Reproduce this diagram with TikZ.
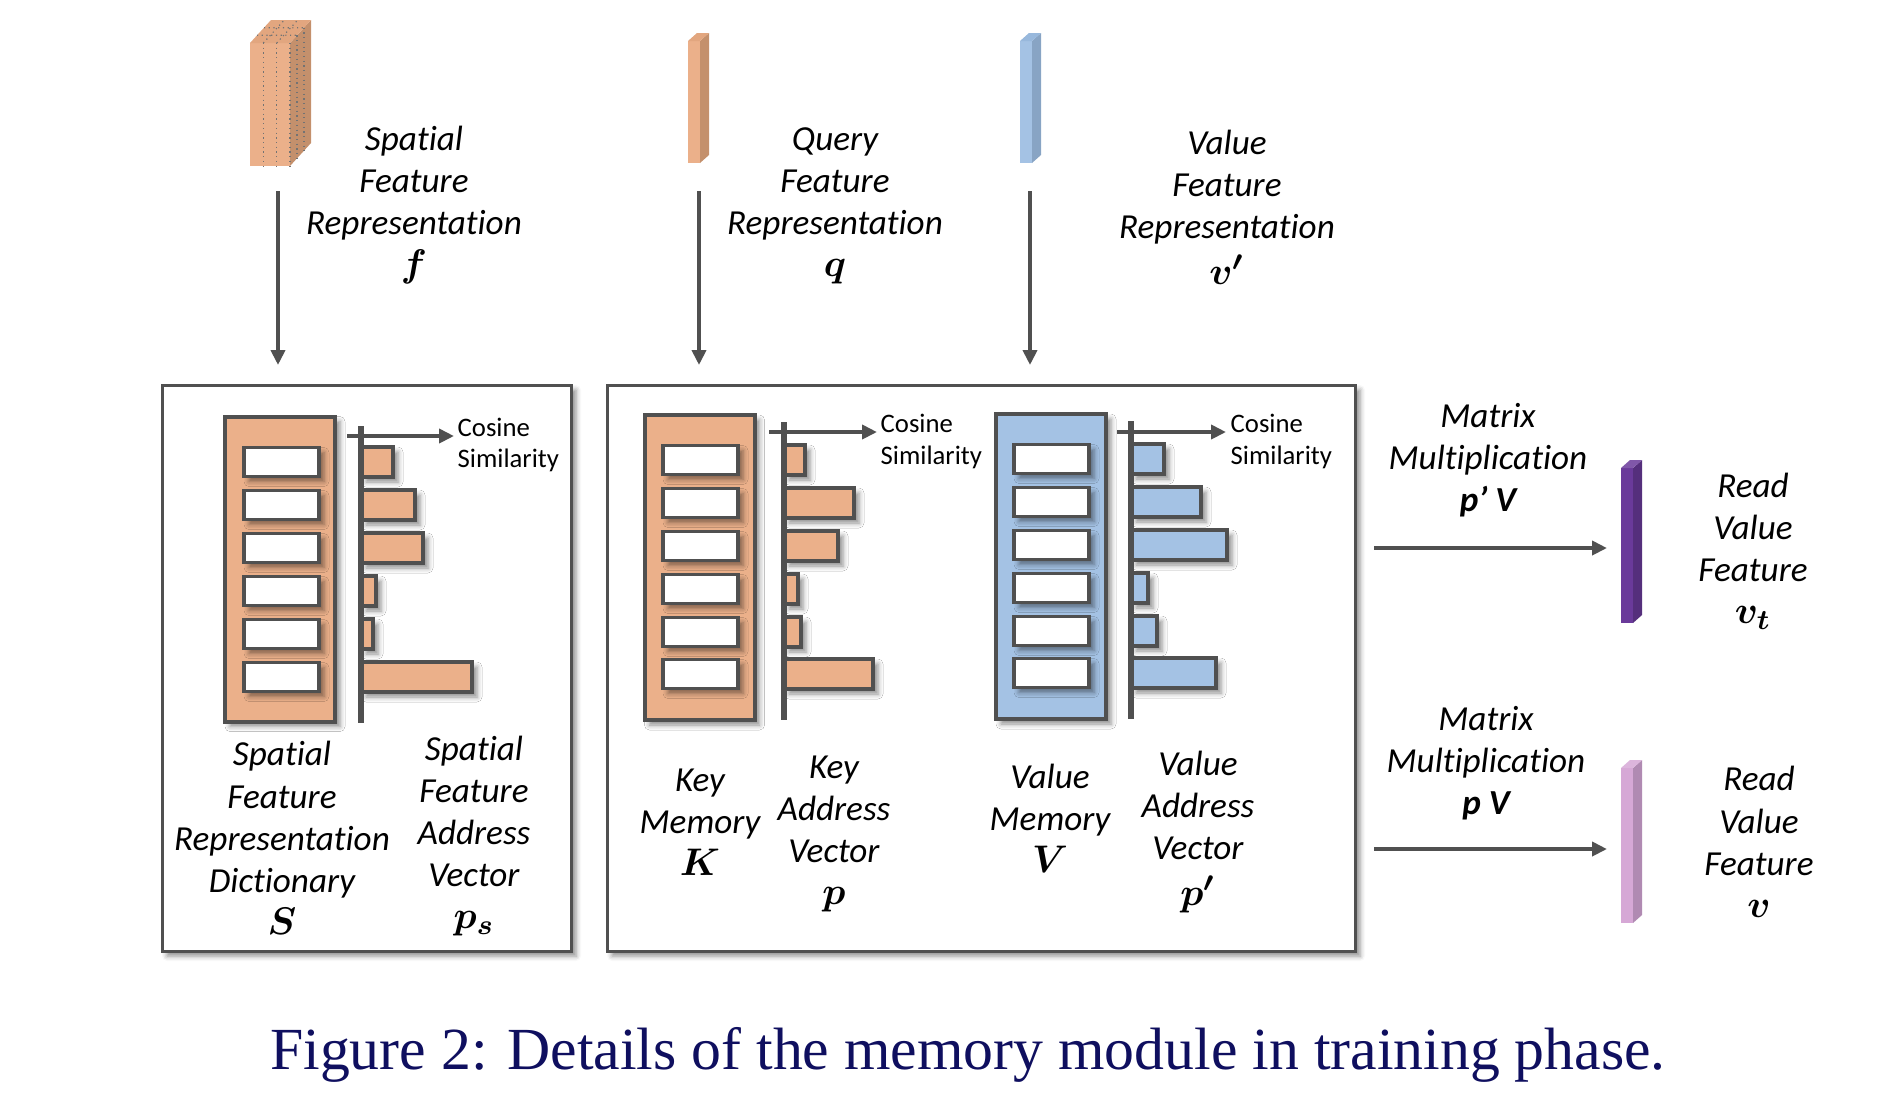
\documentclass[tikz,border=0pt]{standalone}
\usepackage{fontspec}
\setmainfont{Carlito}[Ligatures=NoCommon]
\newfontfamily\capfont{Liberation Serif}
\usepackage{bm}
\usetikzlibrary{arrows.meta,shadows.blur}
\newcommand{\symb}[1]{{\fontsize{11}{12}\selectfont$\bm{#1}$}}
\definecolor{peach}{HTML}{EBB08A}
\definecolor{peachside}{HTML}{C4906C}
\definecolor{peachtop}{HTML}{E2A67F}
\definecolor{skyblue}{HTML}{A4C2E4}
\definecolor{skyside}{HTML}{88A4C4}
\definecolor{skytop}{HTML}{98B8DC}
\definecolor{grape}{HTML}{6A3A9A}
\definecolor{grapeside}{HTML}{552F7C}
\definecolor{lilac}{HTML}{D6A8D6}
\definecolor{lilacside}{HTML}{B08AB2}
\definecolor{linegray}{HTML}{505050}
\definecolor{capblue}{RGB}{15,15,95}
\begin{document}
\begin{tikzpicture}[x=0.1mm,y=-0.1mm,
    lab/.style={font=\fontsize{10}{12}\selectfont\itshape,align=center,inner sep=0pt},
    cos/.style={font=\fontsize{7.6}{9}\selectfont,align=left,anchor=west,inner sep=0pt},
    soft/.style={blur shadow={shadow xshift=0.5mm,shadow yshift=-0.5mm,shadow blur radius=0.5mm,shadow opacity=45}},
    frame/.style={draw=linegray,line width=0.3mm,fill=white,soft},
    mem/.style={draw=linegray,line width=0.4mm,minimum width=11mm,minimum height=30.5mm,inner sep=0pt,soft},
    cell/.style={draw=linegray,line width=0.38mm,fill=white,minimum width=7.5mm,minimum height=2.9mm,inner sep=0pt,soft},
    bar/.style={draw=linegray,line width=0.4mm,soft},
    axis/.style={draw=linegray,line width=0.6mm},
    arr/.style={draw=linegray,line width=0.38mm,-{Triangle[length=1.5mm,width=1.4mm]}},
    dots/.style={draw=black!55,line width=0.12mm,densely dotted}]
  \useasboundingbox (0,0) rectangle (1897,1112);
  \fill[peach] (250,43) rectangle (290,166);
  \fill[peachside] (290,43) -- (311,20) -- (311,143) -- (290,166) -- cycle;
  \fill[peachtop] (250,43) -- (271,20) -- (311,20) -- (290,43) -- cycle;
  \draw[dots] (263.3,43) -- (263.3,166) (276.7,43) -- (276.7,166) (290,43) -- (290,166);
  \draw[dots] (297,35.3) -- (297,158.3) (304,27.7) -- (304,150.7);
  \draw[dots] (263.3,43) -- (284.3,20) (276.7,43) -- (297.7,20)
    (257,35.3) -- (297,35.3) (264,27.7) -- (304,27.7);
  \fill[peach] (688,41) rectangle (700,163);
  \fill[peachside] (700,41) -- (709,33) -- (709,155) -- (700,163) -- cycle;
  \fill[peachtop] (688,41) -- (697,33) -- (709,33) -- (700,41) -- cycle;
  \fill[skyblue] (1020,41) rectangle (1032,163);
  \fill[skyside] (1032,41) -- (1041,33) -- (1041,155) -- (1032,163) -- cycle;
  \fill[skytop] (1020,41) -- (1029,33) -- (1041,33) -- (1032,41) -- cycle;
  \fill[grape] (1621,468) rectangle (1633,623);
  \fill[grapeside] (1633,468) -- (1642,460) -- (1642,615) -- (1633,623) -- cycle;
  \fill[grape!85!white] (1621,468) -- (1630,460) -- (1642,460) -- (1633,468) -- cycle;
  \fill[lilac] (1621,768) rectangle (1633,923);
  \fill[lilacside] (1633,768) -- (1642,760) -- (1642,915) -- (1633,923) -- cycle;
  \fill[lilac!85!white] (1621,768) -- (1630,760) -- (1642,760) -- (1633,768) -- cycle;
  \node[lab] (fLab) at (414,205) {Spatial\\Feature\\Representation\\\symb{f}};
  \node[lab] (qLab) at (835,206) {Query\\Feature\\Representation\\\symb{q}};
  \node[lab] (vLab) at (1227,207) {Value\\Feature\\Representation\\[1pt]\symb{v'}};
  \draw[frame] (162,385) rectangle (571,951);
  \draw[frame] (607,385) rectangle (1355,951);
  \node[mem,fill=peach] (memS) at (280,569) {};
  \node[cell] (s1) at (281.5,462) {};
  \node[cell] (s2) at (281.5,505) {};
  \node[cell] (s3) at (281.5,548) {};
  \node[cell] (s4) at (281.5,591) {};
  \node[cell] (s5) at (281.5,634) {};
  \node[cell] (s6) at (281.5,677) {};
  \draw[bar,fill=peach] (361,447) rectangle (393,477);
  \draw[bar,fill=peach] (361,490) rectangle (415,520);
  \draw[bar,fill=peach] (361,533) rectangle (423,563);
  \draw[bar,fill=peach] (361,576) rectangle (376,606);
  \draw[bar,fill=peach] (361,619) rectangle (373,649);
  \draw[bar,fill=peach] (361,662) rectangle (472,692);
  \draw[axis] (361,426) -- (361,723);
  \node[mem,fill=peach] (memK) at (699.5,567.5) {};
  \node[cell] (k1) at (700.5,460) {};
  \node[cell] (k2) at (700.5,503) {};
  \node[cell] (k3) at (700.5,546) {};
  \node[cell] (k4) at (700.5,589) {};
  \node[cell] (k5) at (700.5,632) {};
  \node[cell] (k6) at (700.5,674) {};
  \draw[bar,fill=peach] (784,445) rectangle (805,475);
  \draw[bar,fill=peach] (784,488) rectangle (854,518);
  \draw[bar,fill=peach] (784,531) rectangle (838,561);
  \draw[bar,fill=peach] (784,574) rectangle (798,604);
  \draw[bar,fill=peach] (784,617) rectangle (801,647);
  \draw[bar,fill=peach] (784,659) rectangle (873,689);
  \draw[axis] (784,422) -- (784,720);
  \node[mem,fill=skyblue] (memV) at (1051,566.5) {};
  \node[cell] (v1) at (1051.5,459) {};
  \node[cell] (v2) at (1051.5,502) {};
  \node[cell] (v3) at (1051.5,545) {};
  \node[cell] (v4) at (1051.5,588) {};
  \node[cell] (v5) at (1051.5,631) {};
  \node[cell] (v6) at (1051.5,673) {};
  \draw[bar,fill=skyblue] (1131,444) rectangle (1164,474);
  \draw[bar,fill=skyblue] (1131,487) rectangle (1201,517);
  \draw[bar,fill=skyblue] (1131,530) rectangle (1227,560);
  \draw[bar,fill=skyblue] (1131,573) rectangle (1148,603);
  \draw[bar,fill=skyblue] (1131,616) rectangle (1157,646);
  \draw[bar,fill=skyblue] (1131,658) rectangle (1216,688);
  \draw[axis] (1131,421) -- (1131,719);
  \node[cos] (cosS) at (457,445) {Cosine\\Similarity};
  \node[cos] (cosK) at (880,441.5) {Cosine\\Similarity};
  \node[cos] (cosV) at (1230,441.5) {Cosine\\Similarity};
  \node[lab] (sLab) at (282,838) {Spatial\\Feature\\Representation\\Dictionary\\\symb{S}};
  \node[lab] (psLab) at (474,836) {Spatial\\Feature\\Address\\Vector\\\symb{p_s}};
  \node[lab] (kLab) at (700,822) {Key\\Memory\\\symb{K}};
  \node[lab] (pLab) at (834,834) {Key\\Address\\Vector\\\symb{p}};
  \node[lab] (vmLab) at (1050,818) {Value\\Memory\\\symb{V}};
  \node[lab] (ppLab) at (1198,832) {Value\\Address\\Vector\\[1pt]\symb{p'}};
  \node[lab] (mm1) at (1488,460) {Matrix\\Multiplication\\\textbf{p’ V}};
  \node[lab] (mm2) at (1486,763) {Matrix\\Multiplication\\\textbf{p V}};
  \node[lab] (rv1) at (1753,551) {Read\\Value\\Feature\\\symb{v_t}};
  \node[lab] (rv2) at (1759,842) {Read\\Value\\Feature\\\symb{v}};
  \coordinate (fOut) at (278,191);
  \coordinate (fIn) at (278,365);
  \coordinate (qOut) at (699,191);
  \coordinate (qIn) at (699,365);
  \coordinate (vOut) at (1030,191);
  \coordinate (vIn) at (1030,365);
  \coordinate (sA) at (347,436);
  \coordinate (sB) at (454,436);
  \coordinate (kA) at (769,432);
  \coordinate (kB) at (877,432);
  \coordinate (vA) at (1117,432);
  \coordinate (vB) at (1226,432);
  \coordinate (m1A) at (1374,548);
  \coordinate (m1B) at (1607,548);
  \coordinate (m2A) at (1374,849);
  \coordinate (m2B) at (1607,849);
  \begin{scope}[arr]
    \draw (fOut) to (fIn);
    \draw (qOut) to (qIn);
    \draw (vOut) to (vIn);
    \draw (sA) to (sB);
    \draw (kA) to (kB);
    \draw (vA) to (vB);
    \draw (m1A) to (m1B);
    \draw (m2A) to (m2B);
  \end{scope}
  \node[font=\capfont\fontsize{17}{20}\selectfont,text=capblue,anchor=base] (cap) at (968,1069)
    {Figure 2: Details of the memory module in training phase.};
\end{tikzpicture}
\end{document}
